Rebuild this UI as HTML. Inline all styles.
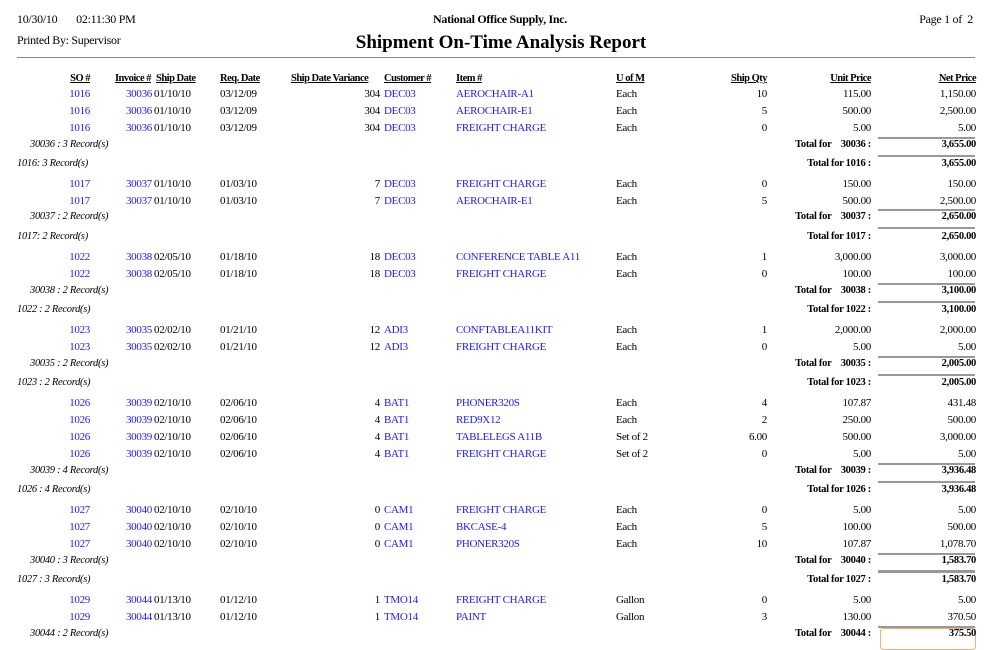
<!DOCTYPE html>
<html><head><meta charset="utf-8"><style>
body{margin:0;background:#fff;width:988px;height:643px;overflow:hidden;position:relative;font-family:"Liberation Serif",serif;font-size:11px;color:#000;letter-spacing:-0.3px}
.a{position:absolute;white-space:nowrap;line-height:14px}
.r{position:absolute;left:0;width:988px;height:14px}
.r span{position:absolute;white-space:nowrap;line-height:14px;top:0}
.so{right:898px;color:#1a1aff}.inv{right:836px;color:#1a1aff}.sd{left:154px}.rq{left:220px}.va{right:608px}.cu{left:384px;color:#1a1aff}.it{left:456px;color:#1a1aff}.um{left:616px}.qt{right:221px}.up{right:117px}.np{right:12px}
.h span{font-weight:bold;text-decoration:underline;font-size:10.5px;letter-spacing:-0.5px}
.ri{font-style:italic;font-size:10.5px}
.t{font-weight:bold;font-size:10.5px}
.ln{position:absolute;left:878px;width:97px;height:0;border-top:2px solid #999}
</style></head><body>
<div class="a" style="left:17px;top:12px;font-size:12px">10/30/10&nbsp;&nbsp;&nbsp;&nbsp;&nbsp;&nbsp;&nbsp;02:11:30 PM</div>
<div class="a" style="left:17px;top:33px;font-size:12px">Printed By: Supervisor</div>
<div class="a" style="left:0;width:1000px;text-align:center;top:12px;font-size:12px;font-weight:bold">National Office Supply, Inc.</div>
<div class="a" style="left:0;width:1002px;text-align:center;top:33px;font-size:19px;font-weight:bold;line-height:20px;letter-spacing:0">Shipment On-Time Analysis Report</div>
<div class="a" style="right:15px;top:12px;font-size:12px">Page 1 of&nbsp; 2</div>
<div style="position:absolute;left:17px;top:57px;width:958px;border-top:1px solid #888"></div>

<div class="r h" style="top:72px"><span class="so" style="color:#000">SO #</span><span class="inv" style="color:#000;right:837px">Invoice #</span><span class="sd" style="left:156px">Ship Date</span><span class="rq">Req. Date</span><span style="left:291px">Ship Date Variance</span><span style="left:384px">Customer #</span><span style="left:456px">Item #</span><span style="left:616px">U of M</span><span class="qt">Ship Qty</span><span class="up">Unit Price</span><span class="np">Net Price</span></div>

<div class="r" style="top:87px"><span class="so">1016</span><span class="inv">30036</span><span class="sd">01/10/10</span><span class="rq">03/12/09</span><span class="va">304</span><span class="cu">DEC03</span><span class="it">AEROCHAIR-A1</span><span class="um">Each</span><span class="qt">10</span><span class="up">115.00</span><span class="np">1,150.00</span></div>
<div class="r" style="top:104px"><span class="so">1016</span><span class="inv">30036</span><span class="sd">01/10/10</span><span class="rq">03/12/09</span><span class="va">304</span><span class="cu">DEC03</span><span class="it">AEROCHAIR-E1</span><span class="um">Each</span><span class="qt">5</span><span class="up">500.00</span><span class="np">2,500.00</span></div>
<div class="r" style="top:121px"><span class="so">1016</span><span class="inv">30036</span><span class="sd">01/10/10</span><span class="rq">03/12/09</span><span class="va">304</span><span class="cu">DEC03</span><span class="it">FREIGHT CHARGE</span><span class="um">Each</span><span class="qt">0</span><span class="up">5.00</span><span class="np">5.00</span></div>
<div class="ln" style="top:137px"></div>
<div class="r" style="top:138px"><span class="ri" style="left:30px">30036 : 3 Record(s)</span><span class="t up">Total for&nbsp;&nbsp;&nbsp; 30036 :</span><span class="t np">3,655.00</span></div>
<div class="ln" style="top:155px"></div>
<div class="r" style="top:157px"><span class="ri" style="left:17px">1016: 3 Record(s)</span><span class="t up">Total for 1016 :</span><span class="t np">3,655.00</span></div>

<div class="r" style="top:177px"><span class="so">1017</span><span class="inv">30037</span><span class="sd">01/10/10</span><span class="rq">01/03/10</span><span class="va">7</span><span class="cu">DEC03</span><span class="it">FREIGHT CHARGE</span><span class="um">Each</span><span class="qt">0</span><span class="up">150.00</span><span class="np">150.00</span></div>
<div class="r" style="top:194px"><span class="so">1017</span><span class="inv">30037</span><span class="sd">01/10/10</span><span class="rq">01/03/10</span><span class="va">7</span><span class="cu">DEC03</span><span class="it">AEROCHAIR-E1</span><span class="um">Each</span><span class="qt">5</span><span class="up">500.00</span><span class="np">2,500.00</span></div>
<div class="ln" style="top:209px"></div>
<div class="r" style="top:210px"><span class="ri" style="left:30px">30037 : 2 Record(s)</span><span class="t up">Total for&nbsp;&nbsp;&nbsp; 30037 :</span><span class="t np">2,650.00</span></div>
<div class="ln" style="top:227px"></div>
<div class="r" style="top:230px"><span class="ri" style="left:17px">1017: 2 Record(s)</span><span class="t up">Total for 1017 :</span><span class="t np">2,650.00</span></div>

<div class="r" style="top:250px"><span class="so">1022</span><span class="inv">30038</span><span class="sd">02/05/10</span><span class="rq">01/18/10</span><span class="va">18</span><span class="cu">DEC03</span><span class="it">CONFERENCE TABLE A11</span><span class="um">Each</span><span class="qt">1</span><span class="up">3,000.00</span><span class="np">3,000.00</span></div>
<div class="r" style="top:267px"><span class="so">1022</span><span class="inv">30038</span><span class="sd">02/05/10</span><span class="rq">01/18/10</span><span class="va">18</span><span class="cu">DEC03</span><span class="it">FREIGHT CHARGE</span><span class="um">Each</span><span class="qt">0</span><span class="up">100.00</span><span class="np">100.00</span></div>
<div class="ln" style="top:283px"></div>
<div class="r" style="top:284px"><span class="ri" style="left:30px">30038 : 2 Record(s)</span><span class="t up">Total for&nbsp;&nbsp;&nbsp; 30038 :</span><span class="t np">3,100.00</span></div>
<div class="ln" style="top:301px"></div>
<div class="r" style="top:303px"><span class="ri" style="left:17px">1022 : 2 Record(s)</span><span class="t up">Total for 1022 :</span><span class="t np">3,100.00</span></div>

<div class="r" style="top:323px"><span class="so">1023</span><span class="inv">30035</span><span class="sd">02/02/10</span><span class="rq">01/21/10</span><span class="va">12</span><span class="cu">ADI3</span><span class="it">CONFTABLEA11KIT</span><span class="um">Each</span><span class="qt">1</span><span class="up">2,000.00</span><span class="np">2,000.00</span></div>
<div class="r" style="top:340px"><span class="so">1023</span><span class="inv">30035</span><span class="sd">02/02/10</span><span class="rq">01/21/10</span><span class="va">12</span><span class="cu">ADI3</span><span class="it">FREIGHT CHARGE</span><span class="um">Each</span><span class="qt">0</span><span class="up">5.00</span><span class="np">5.00</span></div>
<div class="ln" style="top:356px"></div>
<div class="r" style="top:357px"><span class="ri" style="left:30px">30035 : 2 Record(s)</span><span class="t up">Total for&nbsp;&nbsp;&nbsp; 30035 :</span><span class="t np">2,005.00</span></div>
<div class="ln" style="top:374px"></div>
<div class="r" style="top:376px"><span class="ri" style="left:17px">1023 : 2 Record(s)</span><span class="t up">Total for 1023 :</span><span class="t np">2,005.00</span></div>

<div class="r" style="top:396px"><span class="so">1026</span><span class="inv">30039</span><span class="sd">02/10/10</span><span class="rq">02/06/10</span><span class="va">4</span><span class="cu">BAT1</span><span class="it">PHONER320S</span><span class="um">Each</span><span class="qt">4</span><span class="up">107.87</span><span class="np">431.48</span></div>
<div class="r" style="top:413px"><span class="so">1026</span><span class="inv">30039</span><span class="sd">02/10/10</span><span class="rq">02/06/10</span><span class="va">4</span><span class="cu">BAT1</span><span class="it">RED9X12</span><span class="um">Each</span><span class="qt">2</span><span class="up">250.00</span><span class="np">500.00</span></div>
<div class="r" style="top:430px"><span class="so">1026</span><span class="inv">30039</span><span class="sd">02/10/10</span><span class="rq">02/06/10</span><span class="va">4</span><span class="cu">BAT1</span><span class="it">TABLELEGS A11B</span><span class="um">Set of 2</span><span class="qt">6.00</span><span class="up">500.00</span><span class="np">3,000.00</span></div>
<div class="r" style="top:447px"><span class="so">1026</span><span class="inv">30039</span><span class="sd">02/10/10</span><span class="rq">02/06/10</span><span class="va">4</span><span class="cu">BAT1</span><span class="it">FREIGHT CHARGE</span><span class="um">Set of 2</span><span class="qt">0</span><span class="up">5.00</span><span class="np">5.00</span></div>
<div class="ln" style="top:463px"></div>
<div class="r" style="top:464px"><span class="ri" style="left:30px">30039 : 4 Record(s)</span><span class="t up">Total for&nbsp;&nbsp;&nbsp; 30039 :</span><span class="t np">3,936.48</span></div>
<div class="ln" style="top:481px"></div>
<div class="r" style="top:483px"><span class="ri" style="left:17px">1026 : 4 Record(s)</span><span class="t up">Total for 1026 :</span><span class="t np">3,936.48</span></div>

<div class="r" style="top:503px"><span class="so">1027</span><span class="inv">30040</span><span class="sd">02/10/10</span><span class="rq">02/10/10</span><span class="va">0</span><span class="cu">CAM1</span><span class="it">FREIGHT CHARGE</span><span class="um">Each</span><span class="qt">0</span><span class="up">5.00</span><span class="np">5.00</span></div>
<div class="r" style="top:520px"><span class="so">1027</span><span class="inv">30040</span><span class="sd">02/10/10</span><span class="rq">02/10/10</span><span class="va">0</span><span class="cu">CAM1</span><span class="it">BKCASE-4</span><span class="um">Each</span><span class="qt">5</span><span class="up">100.00</span><span class="np">500.00</span></div>
<div class="r" style="top:537px"><span class="so">1027</span><span class="inv">30040</span><span class="sd">02/10/10</span><span class="rq">02/10/10</span><span class="va">0</span><span class="cu">CAM1</span><span class="it">PHONER320S</span><span class="um">Each</span><span class="qt">10</span><span class="up">107.87</span><span class="np">1,078.70</span></div>
<div class="ln" style="top:553px"></div>
<div class="r" style="top:554px"><span class="ri" style="left:30px">30040 : 3 Record(s)</span><span class="t up">Total for&nbsp;&nbsp;&nbsp; 30040 :</span><span class="t np">1,583.70</span></div>
<div class="ln" style="top:570px;border-top-width:3px"></div>
<div class="r" style="top:573px"><span class="ri" style="left:17px">1027 : 3 Record(s)</span><span class="t up">Total for 1027 :</span><span class="t np">1,583.70</span></div>

<div class="r" style="top:593px"><span class="so">1029</span><span class="inv">30044</span><span class="sd">01/13/10</span><span class="rq">01/12/10</span><span class="va">1</span><span class="cu">TMO14</span><span class="it">FREIGHT CHARGE</span><span class="um">Gallon</span><span class="qt">0</span><span class="up">5.00</span><span class="np">5.00</span></div>
<div class="r" style="top:610px"><span class="so">1029</span><span class="inv">30044</span><span class="sd">01/13/10</span><span class="rq">01/12/10</span><span class="va">1</span><span class="cu">TMO14</span><span class="it">PAINT</span><span class="um">Gallon</span><span class="qt">3</span><span class="up">130.00</span><span class="np">370.50</span></div>
<div class="ln" style="top:626px"></div>
<div style="position:absolute;left:880px;top:628px;width:94px;height:20px;border:1px solid #f0b070;border-radius:3px"></div>
<div class="r" style="top:627px"><span class="ri" style="left:30px">30044 : 2 Record(s)</span><span class="t up">Total for&nbsp;&nbsp;&nbsp; 30044 :</span><span class="t np">375.50</span></div>
</body></html>
